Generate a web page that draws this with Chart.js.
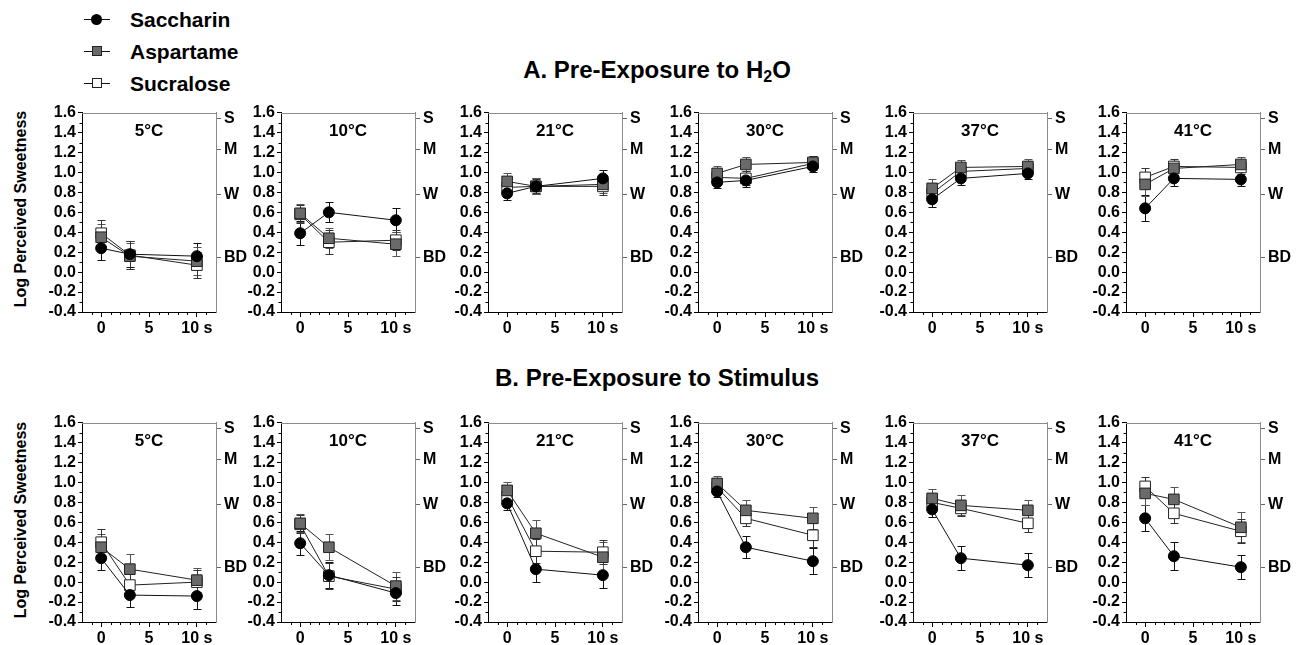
<!DOCTYPE html>
<html>
<head>
<meta charset="utf-8">
<script src="https://cdn.jsdelivr.net/npm/chart.js@4.4.1/dist/chart.umd.min.js"></script>
<style>
  body { margin: 0; width: 1297px; height: 645px; background: #fff; position: relative; overflow: hidden;
         font-family: "Liberation Sans", Arial, sans-serif; color: #000; }
  canvas { position: absolute; }
  .title { position: absolute; left: 0; width: 1314px; text-align: center; font-weight: bold; font-size: 24px; line-height: 26px; }
  .title sub { font-size: 16px; vertical-align: -4px; line-height: 0; }
  .ytitle { position: absolute; width: 240px; text-align: center; font-weight: bold; font-size: 16px; line-height: 18px;
            transform: rotate(-90deg); transform-origin: center center; }
  .leg { position: absolute; left: 84px; height: 24px; font-weight: bold; font-size: 21px; line-height: 24px; }
  .leg .ln { position: absolute; left: 0; top: 11px; width: 26px; height: 1px; background: #111; }
  .leg .mk { position: absolute; left: 8px; top: 6px; width: 10px; height: 10px; box-sizing: border-box; }
  .leg .tx { position: absolute; left: 46px; top: 0; white-space: nowrap; }
</style>
</head>
<body>
<div class="leg" style="top:8px"><div class="ln"></div><div class="mk" style="background:#000;border-radius:50%;width:11px;height:11px;left:7px;top:6px"></div><span class="tx">Saccharin</span></div>
<div class="leg" style="top:40px"><div class="ln"></div><div class="mk" style="background:#6a6a6a;border:1px solid #222"></div><span class="tx">Aspartame</span></div>
<div class="leg" style="top:72px"><div class="ln"></div><div class="mk" style="background:#fff;border:1px solid #222"></div><span class="tx">Sucralose</span></div>

<div class="title" style="top:57px">A. Pre-Exposure to H<sub>2</sub>O</div>
<div class="title" style="top:365px">B. Pre-Exposure to Stimulus</div>
<div class="ytitle" style="left:-99px;top:200px">Log Perceived Sweetness</div>
<div class="ytitle" style="left:-99px;top:511px">Log Perceived Sweetness</div>

<script>
const times = [0, 3, 10];
const temps = ['5°C', '10°C', '21°C', '30°C', '37°C', '41°C'];
const seriesNames = ['Saccharin', 'Aspartame', 'Sucralose'];
const xTicks = [0, 5, 10];
const yTicks = [-0.4, -0.2, 0, 0.2, 0.4, 0.6, 0.8, 1.0, 1.2, 1.4, 1.6];
const sensLabels = ['BD', 'W', 'M', 'S'];
const sensValues = [0.146, 0.778, 1.230, 1.544];

// A. pre-exposure to water, one row per temperature, values at 0, 3, 10 s
const waterSaccharin = [[0.24, 0.18, 0.16], [0.39, 0.60, 0.52], [0.79, 0.86, 0.94], [0.90, 0.92, 1.06], [0.73, 0.94, 0.99], [0.64, 0.94, 0.93]];
const waterSaccharinErr = [[0.12, 0.13, 0.13], [0.12, 0.10, 0.12], [0.07, 0.08, 0.08], [0.06, 0.07, 0.06], [0.08, 0.07, 0.06], [0.13, 0.08, 0.07]];
const waterAspartame = [[0.35, 0.16, 0.11], [0.59, 0.34, 0.28], [0.91, 0.86, 0.88], [0.99, 1.08, 1.10], [0.84, 1.05, 1.06], [0.88, 1.04, 1.08]];
const waterAspartameErr = [[0.13, 0.13, 0.14], [0.09, 0.10, 0.12], [0.08, 0.08, 0.09], [0.07, 0.07, 0.06], [0.09, 0.07, 0.07], [0.12, 0.07, 0.07]];
const waterSucralose = [[0.39, 0.17, 0.07], [0.58, 0.30, 0.32], [0.85, 0.86, 0.86], [0.95, 0.94, 1.09], [0.79, 1.01, 1.04], [0.95, 1.06, 1.05]];
const waterSucraloseErr = [[0.13, 0.14, 0.13], [0.09, 0.12, 0.10], [0.07, 0.07, 0.09], [0.07, 0.07, 0.07], [0.08, 0.07, 0.07], [0.09, 0.07, 0.07]];

// B. pre-exposure to the stimulus
const stimSaccharin = [[0.24, -0.13, -0.14], [0.39, 0.07, -0.11], [0.79, 0.13, 0.07], [0.91, 0.35, 0.21], [0.73, 0.24, 0.17], [0.64, 0.26, 0.15]];
const stimSaccharinErr = [[0.12, 0.12, 0.13], [0.12, 0.13, 0.12], [0.07, 0.13, 0.13], [0.06, 0.11, 0.13], [0.08, 0.12, 0.12], [0.13, 0.14, 0.12]];
const stimAspartame = [[0.35, 0.13, 0.02], [0.59, 0.35, -0.04], [0.92, 0.49, 0.25], [0.99, 0.72, 0.64], [0.84, 0.77, 0.72], [0.89, 0.83, 0.55]];
const stimAspartameErr = [[0.13, 0.15, 0.12], [0.09, 0.13, 0.14], [0.08, 0.13, 0.15], [0.07, 0.10, 0.11], [0.09, 0.10, 0.10], [0.12, 0.12, 0.15]];
const stimSucralose = [[0.40, -0.03, 0.00], [0.58, 0.06, -0.07], [0.86, 0.31, 0.30], [0.95, 0.64, 0.47], [0.80, 0.74, 0.59], [0.96, 0.69, 0.51]];
const stimSucraloseErr = [[0.13, 0.12, 0.12], [0.09, 0.13, 0.12], [0.07, 0.12, 0.12], [0.07, 0.08, 0.12], [0.08, 0.08, 0.09], [0.09, 0.10, 0.12]];

// layout
const panelLeft = [82, 281, 488, 698, 913, 1126];
const rowTop = [100, 410];
const FONT = '"Liberation Sans", Arial, sans-serif';

const panelDecor = {
  id: 'panelDecor',
  beforeDatasetsDraw(chart) {
    const { ctx, chartArea: a, scales } = chart;
    const x = scales.x, y = scales.y;
    ctx.save();
    ctx.lineWidth = 1;
    // gray top frame
    ctx.strokeStyle = '#8c8c8c';
    ctx.beginPath();
    ctx.moveTo(a.left, Math.round(a.top) + 0.5);
    ctx.lineTo(a.right, Math.round(a.top) + 0.5);
    ctx.stroke();
    // minor ticks
    ctx.strokeStyle = '#000';
    ctx.beginPath();
    for (let v = -4; v <= 16; v++) {
      if (v % 2 === 0) continue;
      const py = Math.round(y.getPixelForValue(v / 10)) + 0.5;
      ctx.moveTo(a.left - 2.5, py);
      ctx.lineTo(a.left, py);
    }
    for (let t = -1; t <= 11; t++) {
      if (t % 5 === 0) continue;
      const px = Math.round(x.getPixelForValue(t)) + 0.5;
      ctx.moveTo(px, a.bottom);
      ctx.lineTo(px, a.bottom + 3);
    }
    ctx.stroke();
    // error bars, under the markers
    chart.data.datasets.forEach(ds => {
      ctx.strokeStyle = ds.errColor;
      ctx.beginPath();
      ds.data.forEach((p, i) => {
        const px = Math.round(x.getPixelForValue(p.x)) + 0.5;
        const hi = Math.round(y.getPixelForValue(p.y + ds.err[i])) + 0.5;
        const lo = Math.round(y.getPixelForValue(p.y - ds.err[i])) + 0.5;
        ctx.moveTo(px, hi); ctx.lineTo(px, lo);
        ctx.moveTo(px - 4, hi); ctx.lineTo(px + 4, hi);
        ctx.moveTo(px - 4, lo); ctx.lineTo(px + 4, lo);
      });
      ctx.stroke();
    });
    // temperature label
    ctx.fillStyle = '#000';
    ctx.font = 'bold 17px ' + FONT;
    ctx.textAlign = 'center';
    ctx.textBaseline = 'middle';
    ctx.fillText(chart.options.plugins.panelDecor.label, (a.left + a.right) / 2, a.top + 19);
    ctx.restore();
  }
};

function makePanel(row, col, sac, sacErr, asp, aspErr, suc, sucErr) {
  const cv = document.createElement('canvas');
  cv.width = 218; cv.height = 240;
  cv.style.left = (panelLeft[col] - 52) + 'px';
  cv.style.top = rowTop[row] + 'px';
  document.body.appendChild(cv);
  const pts = vals => times.map((t, i) => ({ x: t, y: vals[i] }));
  new Chart(cv.getContext('2d'), {
    type: 'line',
    data: {
      datasets: [
        { label: seriesNames[0], data: pts(sac[col]), err: sacErr[col], errColor: '#111',
          borderColor: '#111', borderWidth: 1, pointStyle: 'circle', pointRadius: 5.5,
          pointBackgroundColor: '#000', pointBorderColor: '#000', pointBorderWidth: 1 },
        { label: seriesNames[1], data: pts(asp[col]), err: aspErr[col], errColor: '#555',
          borderColor: '#222', borderWidth: 1, pointStyle: 'rect', pointRadius: 7.5,
          pointBackgroundColor: '#6a6a6a', pointBorderColor: '#222', pointBorderWidth: 1 },
        { label: seriesNames[2], data: pts(suc[col]), err: sucErr[col], errColor: '#333',
          borderColor: '#222', borderWidth: 1, pointStyle: 'rect', pointRadius: 7.5,
          pointBackgroundColor: '#fff', pointBorderColor: '#222', pointBorderWidth: 1 }
      ]
    },
    options: {
      responsive: false, animation: false, devicePixelRatio: 1,
      layout: { padding: { top: 10, left: 0, right: 0, bottom: 0 } },
      plugins: { legend: { display: false }, tooltip: { enabled: false }, panelDecor: { label: temps[col] } },
      scales: {
        x: {
          type: 'linear', min: -2, max: 12,
          afterBuildTicks: s => { s.ticks = xTicks.map(v => ({ value: v })); },
          afterFit: s => { s.height = 28; },
          ticks: { callback: v => v === 10 ? '10 s' : String(v), color: '#000', padding: 2,
                   maxRotation: 0, autoSkip: false, font: { family: FONT, size: 16, weight: 'bold' } },
          grid: { drawOnChartArea: false, drawTicks: true, tickLength: 5, color: '#000', tickColor: '#000' },
          border: { color: '#000', width: 1 }
        },
        y: {
          position: 'left', min: -0.4, max: 1.6,
          afterBuildTicks: s => { s.ticks = yTicks.map(v => ({ value: v })); },
          afterFit: s => { s.width = 52; },
          ticks: { callback: v => v.toFixed(1), color: '#000', padding: 2, autoSkip: false,
                   font: { family: FONT, size: 16, weight: 'bold' } },
          grid: { drawOnChartArea: false, drawTicks: true, tickLength: 4, color: '#000', tickColor: '#000' },
          border: { color: '#000', width: 1 }
        },
        y2: {
          position: 'right', min: -0.4, max: 1.6,
          afterBuildTicks: s => { s.ticks = sensValues.map(v => ({ value: v })); },
          afterFit: s => { s.width = 32; },
          ticks: { callback: (v, i) => sensLabels[i], color: '#000', padding: 3, autoSkip: false,
                   font: { family: FONT, size: 16, weight: 'bold' } },
          grid: { drawOnChartArea: false, drawTicks: true, tickLength: 5, color: '#777', tickColor: '#666' },
          border: { color: '#8c8c8c', width: 1 }
        }
      }
    },
    plugins: [panelDecor]
  });
}

for (let c = 0; c < temps.length; c++) {
  makePanel(0, c, waterSaccharin, waterSaccharinErr, waterAspartame, waterAspartameErr, waterSucralose, waterSucraloseErr);
  makePanel(1, c, stimSaccharin, stimSaccharinErr, stimAspartame, stimAspartameErr, stimSucralose, stimSucraloseErr);
}
</script>
</body>
</html>
